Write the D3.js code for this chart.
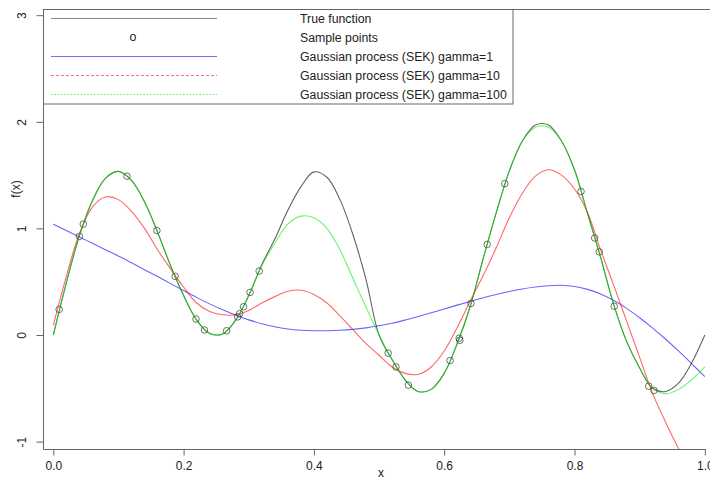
<!DOCTYPE html>
<html>
<head>
<meta charset="utf-8">
<script src="https://cdn.jsdelivr.net/npm/d3@7"></script>
<style>
  body { margin: 0; background: #fff; }
  svg { display: block; font-family: "Liberation Sans", Arial, sans-serif; }
</style>
</head>
<body>
<div id="chart"></div>
<script>
// grid of x values the curves were read at
const xGrid = [0.00, 0.02, 0.04, 0.06, 0.08, 0.10, 0.12, 0.14, 0.16, 0.18,
               0.20, 0.22, 0.24, 0.26, 0.28, 0.30, 0.32, 0.34, 0.36, 0.38,
               0.40, 0.42, 0.44, 0.46, 0.48, 0.50, 0.52, 0.54, 0.56, 0.58,
               0.60, 0.62, 0.64, 0.66, 0.68, 0.70, 0.72, 0.74, 0.76, 0.78,
               0.80, 0.82, 0.84, 0.86, 0.88, 0.90, 0.92, 0.94, 0.96, 0.98, 1.00];

const trueVals = [0.00, 0.49, 0.93, 1.26, 1.47, 1.535, 1.45, 1.25, 0.965, 0.65,
                  0.37, 0.14, 0.015, 0.01, 0.14, 0.37, 0.66, 0.90, 1.17, 1.39,
                  1.53, 1.48, 1.27, 0.94, 0.52, 0.00, -0.23, -0.42, -0.53, -0.51,
                  -0.36, -0.08, 0.27, 0.72, 1.15, 1.54, 1.82, 1.97, 1.97, 1.82,
                  1.55, 1.14, 0.73, 0.29, -0.06, -0.31, -0.50, -0.53, -0.45, -0.26, 0.00];

const gp1Vals = [1.04, 0.98, 0.92, 0.86, 0.80, 0.74, 0.677, 0.613, 0.548, 0.482,
                 0.417, 0.353, 0.292, 0.236, 0.186, 0.142, 0.106, 0.077, 0.057, 0.045,
                 0.04, 0.04, 0.044, 0.053, 0.067, 0.086, 0.11, 0.14, 0.173, 0.208,
                 0.244, 0.28, 0.315, 0.349, 0.38, 0.408, 0.432, 0.45, 0.462, 0.466,
                 0.455, 0.428, 0.385, 0.325, 0.25, 0.162, 0.065, -0.04, -0.152, -0.27, -0.39];

const gp10Vals = [0.09, 0.55, 0.95, 1.20, 1.295, 1.27, 1.16, 1.00, 0.80, 0.62,
                  0.45, 0.30, 0.22, 0.19, 0.19, 0.23, 0.30, 0.36, 0.41, 0.42,
                  0.38, 0.30, 0.18, 0.05, -0.08, -0.19, -0.30, -0.36, -0.37, -0.30,
                  -0.15, 0.07, 0.32, 0.56, 0.82, 1.10, 1.33, 1.49, 1.55, 1.50,
                  1.37, 1.15, 0.80, 0.47, 0.13, -0.21, -0.55, -0.82, -1.07, -1.30, -1.52];

const gp100Vals = [0.00, 0.49, 0.93, 1.26, 1.47, 1.535, 1.45, 1.25, 0.965, 0.65,
                   0.37, 0.14, 0.015, 0.01, 0.14, 0.37, 0.65, 0.86, 1.04, 1.115,
                   1.10, 1.00, 0.80, 0.53, 0.26, 0.00, -0.23, -0.42, -0.53, -0.51,
                   -0.36, -0.08, 0.27, 0.72, 1.15, 1.54, 1.82, 1.95, 1.95, 1.82,
                   1.55, 1.14, 0.73, 0.29, -0.06, -0.31, -0.50, -0.55, -0.51, -0.42, -0.30];

const sampleX = [0.009, 0.040, 0.046, 0.113, 0.159, 0.187, 0.219, 0.232, 0.266, 0.283,
                 0.286, 0.292, 0.302, 0.316, 0.514, 0.526, 0.545, 0.609, 0.623, 0.624,
                 0.641, 0.666, 0.693, 0.810, 0.831, 0.838, 0.861, 0.914, 0.922];
const sampleY = [0.24, 0.925, 1.04, 1.49, 0.98, 0.55, 0.15, 0.047, 0.04, 0.17,
                 0.20, 0.265, 0.40, 0.60, -0.17, -0.30, -0.47, -0.24, -0.03, -0.05,
                 0.296, 0.85, 1.42, 1.346, 0.91, 0.78, 0.27, -0.48, -0.52];

const xTicks = [0, 0.2, 0.4, 0.6, 0.8, 1.0];
const yTicks = [-1, 0, 1, 2, 3];

const legendLabels = ["True function", "Sample points", "Gaussian process (SEK) gamma=1",
                      "Gaussian process (SEK) gamma=10", "Gaussian process (SEK) gamma=100"];

const W = 710, H = 480;
const box = { left: 43.5, top: 9.5, right: 706, bottom: 449.5 };

const svg = d3.select("#chart").append("svg")
    .attr("width", W)
    .attr("height", H);

const x = d3.scaleLinear().domain([0, 1]).range([53.3, 704.8]);
const y = d3.scaleLinear().domain([-1, 3]).range([441.6, 15.2]);

// clip for the plot region
svg.append("clipPath").attr("id", "plotclip")
  .append("rect")
    .attr("x", box.left).attr("y", box.top)
    .attr("width", W - box.left).attr("height", box.bottom - box.top);

// box lines
svg.append("line")
    .attr("x1", box.left).attr("x2", W)
    .attr("y1", box.top).attr("y2", box.top)
    .attr("stroke", "#666");
svg.append("line")
    .attr("x1", box.left).attr("x2", box.right)
    .attr("y1", box.bottom).attr("y2", box.bottom)
    .attr("stroke", "#666");
svg.append("line")
    .attr("x1", box.left).attr("x2", box.left)
    .attr("y1", box.top).attr("y2", box.bottom)
    .attr("stroke", "#666");

// x axis
const xAxis = svg.append("g")
    .attr("transform", `translate(0,${box.bottom})`)
    .call(d3.axisBottom(x).tickValues(xTicks).tickSize(6).tickPadding(6)
        .tickFormat(d => d.toFixed(1)));
xAxis.select(".domain").remove();
xAxis.selectAll("line").attr("stroke", "#666");
xAxis.selectAll("text")
    .attr("fill", "#222")
    .style("font-size", "12px")
    .style("font-family", "'Liberation Sans', Arial, sans-serif");

// y axis, labels rotated like base R
const yAxis = svg.append("g")
    .attr("transform", `translate(${box.left},0)`)
    .call(d3.axisLeft(y).tickValues(yTicks).tickSize(7).tickFormat(d => String(d)));
yAxis.select(".domain").remove();
yAxis.selectAll("line").attr("stroke", "#666");
yAxis.selectAll("text")
    .attr("x", null)
    .attr("dy", "0.35em")
    .attr("text-anchor", "middle")
    .attr("transform", "translate(-22,0) rotate(-90)")
    .attr("fill", "#222")
    .style("font-size", "12px")
    .style("font-family", "'Liberation Sans', Arial, sans-serif");

// axis titles
svg.append("text")
    .attr("x", 381).attr("y", 473)
    .attr("dy", "0.3em")
    .attr("text-anchor", "middle")
    .attr("fill", "#222")
    .style("font-size", "12px")
    .text("x");
svg.append("text")
    .attr("transform", "translate(15.5,189) rotate(-90)")
    .attr("dy", "0.35em")
    .attr("text-anchor", "middle")
    .attr("fill", "#222")
    .style("font-size", "12px")
    .text("f(x)");

const plot = svg.append("g").attr("clip-path", "url(#plotclip)");

const line = vals => d3.line()
    .x((d, i) => x(xGrid[i]))
    .y(d => y(d))
    .curve(d3.curveCatmullRom.alpha(0.5))(vals);

// true function
plot.append("path")
    .attr("d", line(trueVals))
    .attr("fill", "none")
    .attr("stroke", "#000")
    .attr("stroke-opacity", 0.62)
    .attr("stroke-width", 1.1);

// sample points
plot.selectAll(".pt")
  .data(sampleX)
  .enter().append("circle")
    .attr("class", "pt")
    .attr("cx", d => x(d))
    .attr("cy", (d, i) => y(sampleY[i]))
    .attr("r", 3.3)
    .attr("fill", "none")
    .attr("stroke", "#000")
    .attr("stroke-opacity", 0.55);

const series = [
  { vals: gp1Vals, color: "#0000ff" },
  { vals: gp10Vals, color: "#ff0000" },
  { vals: gp100Vals, color: "#00ee00" }
];
series.forEach(s => {
  plot.append("path")
      .attr("d", line(s.vals))
      .attr("fill", "none")
      .attr("stroke", s.color)
      .attr("stroke-opacity", 0.6)
      .attr("stroke-width", 1.1);
});

// legend
const leg = svg.append("g");
leg.append("rect")
    .attr("x", box.left).attr("y", box.top)
    .attr("width", 513 - box.left).attr("height", 104 - box.top)
    .attr("fill", "#fff")
    .attr("stroke", "#666");

const legStyles = [
  { color: "#888", dash: null },
  null,
  { color: "#6f6fff", dash: null },
  { color: "#ff7070", dash: "3,2" },
  { color: "#66f066", dash: "1.5,1.8" }
];
legendLabels.forEach((lab, i) => {
  const ly = 18.5 + i * 19;
  const st = legStyles[i];
  if (st) {
    leg.append("line")
        .attr("x1", 51).attr("x2", 217)
        .attr("y1", ly).attr("y2", ly)
        .attr("stroke", st.color)
        .attr("stroke-dasharray", st.dash);
  } else {
    leg.append("text")
        .attr("x", 133).attr("y", ly)
        .attr("dy", "0.3em")
        .attr("text-anchor", "middle")
        .attr("fill", "#222")
        .style("font-size", "12.3px")
        .text("o");
  }
  leg.append("text")
      .attr("x", 300).attr("y", ly)
      .attr("dy", "0.35em")
      .attr("fill", "#222")
      .style("font-size", "12.3px")
      .text(lab);
});
</script>
</body>
</html>
